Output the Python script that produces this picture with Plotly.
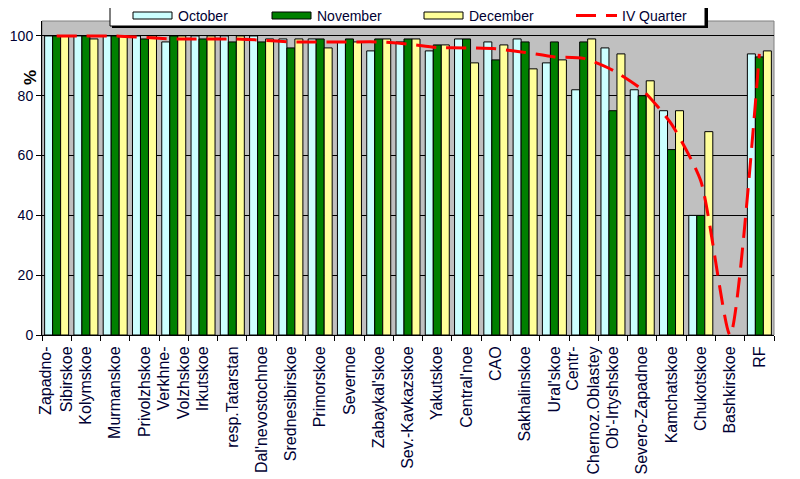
import plotly.graph_objects as go

# regions (x categories)
regions = [
    "Zapadno-<br>Sibirskoe", "Kolymskoe", "Murmanskoe", "Privolzhskoe",
    "Verkhne-<br>Volzhskoe", "Irkutskoe", "resp.Tatarstan", "Dal'nevostochnoe",
    "Srednesibirskoe", "Primorskoe", "Severnoe", "Zabaykal'skoe",
    "Sev.-Kavkazskoe", "Yakutskoe", "Central'noe", "CAO", "Sakhalinskoe",
    "Ural'skoe", "Centr-<br>Chernoz.Oblastey", "Ob'-Irtyshskoe",
    "Severo-Zapadnoe", "Kamchatskoe", "Chukotskoe", "Bashkirskoe", "RF",
]

october = [100, 100, 100, 100, 98, 100, 100, 100, 99, 99, 98, 95, 98,
           95, 99, 98, 99, 91, 82, 96, 82, 75, 40, None, 94]
november = [100, 100, 100, 99, 100, 99, 98, 98, 96, 99, 99, 99, 99,
            97, 99, 92, 98, 98, 98, 75, 80, 62, 40, None, 93]
december = [100, 99, 100, 100, 100, 100, 100, 99, 99, 96, 98, 99, 99,
            97, 91, 97, 89, 92, 99, 94, 85, 75, 68, None, 95]
quarter = [100, 100, 100, 99.5, 99, 99, 99, 98.6, 98, 98, 98, 98, 97.3,
           96.1, 96, 95.7, 94.5, 93, 92.5, 88.5, 82, 70.5, 51.5, 0, 94]

y_ticks = [0, 20, 40, 60, 80, 100]

TEXT = "#000033"
FONT = "Liberation Sans, Arial, sans-serif"

# plot area in page pixels; the html body adds an 8px margin
W, H = 800, 479
OFF = 8
L, R, T, B = 42, 774, 21, 335


def px_x(x):
    return (x - L) / (R - L)


def px_y(y):
    return (B - y) / (B - T)


fig = go.Figure()
fig.add_bar(x=regions, y=october, name="October",
            marker=dict(color="#CCFFFF", line=dict(color="black", width=1)))
fig.add_bar(x=regions, y=november, name="November",
            marker=dict(color="#008000", line=dict(color="black", width=1)))
fig.add_bar(x=regions, y=december, name="December",
            marker=dict(color="#FFFF99", line=dict(color="black", width=1)))
fig.add_scatter(x=regions, y=quarter, name="IV Quarter", mode="lines",
                line=dict(color="#FF0000", width=3, dash="20px,10px",
                          shape="spline", smoothing=0.6))

# hand drawn legend box, like the excel one
shapes = [
    dict(type="rect", xref="paper", yref="paper",
         x0=px_x(112), x1=px_x(708), y0=px_y(28), y1=px_y(7),
         fillcolor="black", line=dict(width=0), layer="above"),
    dict(type="rect", xref="paper", yref="paper",
         x0=px_x(110), x1=px_x(705), y0=px_y(26), y1=px_y(5),
         fillcolor="white", line=dict(color="black", width=1), layer="above"),
]
annotations = []
legend_items = [
    ("October", "#CCFFFF", 133),
    ("November", "#008000", 272),
    ("December", "#FFFF99", 424),
]
for label, color, x0 in legend_items:
    shapes.append(dict(type="rect", xref="paper", yref="paper",
                       x0=px_x(x0), x1=px_x(x0 + 39), y0=px_y(19), y1=px_y(12),
                       fillcolor=color, line=dict(color="black", width=1),
                       layer="above"))
    annotations.append(dict(text=label, xref="paper", yref="paper",
                            x=px_x(x0 + 43), y=px_y(15.5), xanchor="left",
                            yanchor="middle", showarrow=False,
                            font=dict(size=14, color=TEXT, family=FONT)))
shapes.append(dict(type="line", xref="paper", yref="paper",
                   x0=px_x(576), x1=px_x(617), y0=px_y(15.5), y1=px_y(15.5),
                   line=dict(color="#FF0000", width=3, dash="20px,10px"),
                   layer="above"))
annotations.append(dict(text="IV Quarter", xref="paper", yref="paper",
                        x=px_x(620), y=px_y(15.5), xanchor="left",
                        yanchor="middle", showarrow=False,
                        font=dict(size=14, color=TEXT, family=FONT)))
annotations.append(dict(text="<b>%</b>", xref="paper", yref="paper",
                        x=px_x(19), y=px_y(68), textangle=-90,
                        showarrow=False,
                        font=dict(size=17, color="black", family=FONT)))

fw, fh = W - OFF, H - OFF
fig.update_layout(
    width=fw, height=fh,
    margin=dict(l=L - OFF, r=fw - (R - OFF), t=T - OFF, b=fh - (B - OFF),
                pad=0),
    paper_bgcolor="white",
    plot_bgcolor="#C0C0C0",
    barmode="group",
    bargap=0.18,
    bargroupgap=0,
    showlegend=False,
    font=dict(family=FONT, size=14, color=TEXT),
    shapes=shapes,
    annotations=annotations,
)
fig.update_xaxes(
    type="category", range=[-0.5, len(regions) - 0.5], automargin=False,
    tickangle=-90, tickson="boundaries", ticks="outside", ticklen=5,
    ticklabelstandoff=4,
    tickcolor="black", showgrid=False, showline=True, linecolor="black",
    linewidth=1, mirror=False, tickfont=dict(size=16),
)
fig.update_yaxes(
    range=[0, 105], tickvals=y_ticks, ticks="outside", ticklen=5,
    automargin=False,
    tickcolor="black", showgrid=True, gridcolor="black", gridwidth=1,
    showline=True, linecolor="black", linewidth=1, zeroline=False,
    tickfont=dict(size=14),
)
# grey frame on top / right of the plot area
fig.add_shape(type="rect", xref="paper", yref="paper", x0=0, x1=1, y0=0, y1=1,
              line=dict(color="#808080", width=1), layer="below")

fig.write_html("out.html")
